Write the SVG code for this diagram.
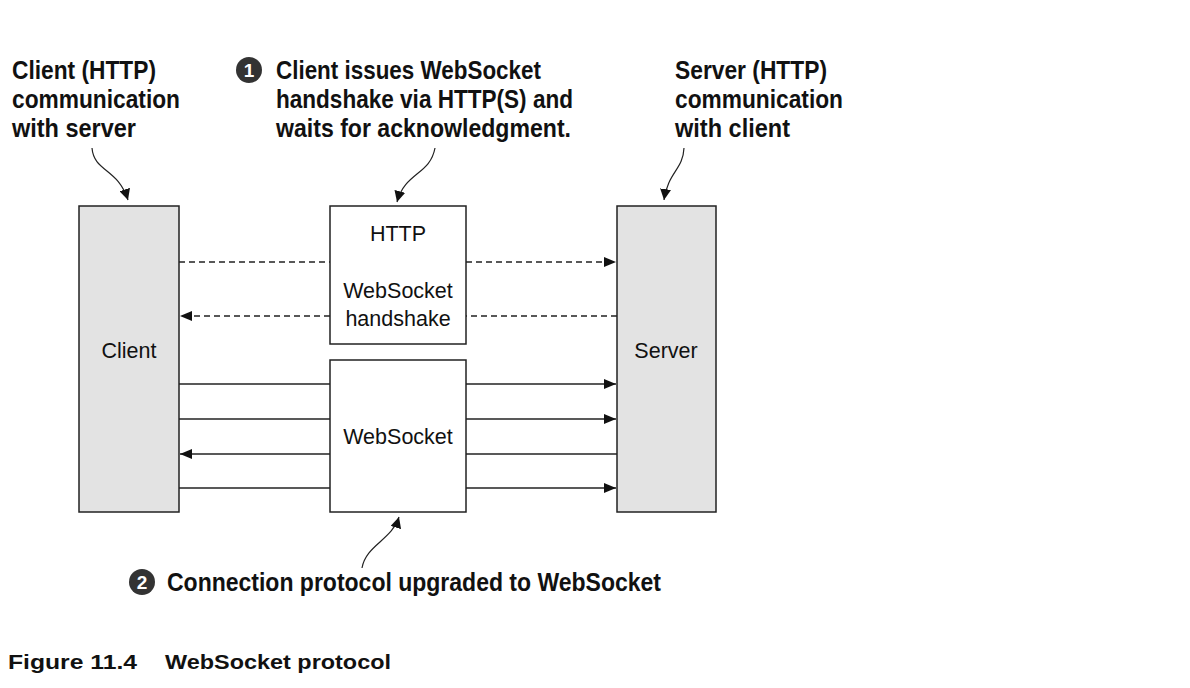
<svg xmlns="http://www.w3.org/2000/svg" width="1190" height="688" viewBox="0 0 1190 688">
<style>
.box{stroke:#222;stroke-width:1.5}
.lbl{font-family:"Liberation Sans",Arial,sans-serif;font-size:21.5px;fill:#111;text-anchor:middle}
.ann{font-family:"Liberation Sans",Arial,sans-serif;font-weight:bold;font-size:25px;fill:#111}
.num{font-family:"Liberation Sans",Arial,sans-serif;font-weight:bold;font-size:19px;fill:#fff;text-anchor:middle}
.cap{font-family:"Liberation Sans",Arial,sans-serif;font-weight:bold;font-size:21px;fill:#111}
.ln{stroke:#222;stroke-width:1.3;fill:none}
.dash{stroke-dasharray:6 4}
.cv{stroke:#222;stroke-width:1.2;fill:none}
</style>
<defs>
<marker id="ah" viewBox="0 0 12 10" refX="12" refY="5" markerWidth="14" markerHeight="10" markerUnits="userSpaceOnUse" orient="auto">
<path d="M0,0 L12,5 L0,10 Z" fill="#111"/>
</marker>
<marker id="ch" viewBox="0 0 10 10" refX="10" refY="5" markerWidth="11" markerHeight="11" markerUnits="userSpaceOnUse" orient="auto">
<path d="M0,0 L10,5 L0,10 Z" fill="#111"/>
</marker>
</defs>
<rect width="1190" height="688" fill="#fff"/>

<g id="client">
<rect class="box" x="79" y="206" width="100" height="306" fill="#e3e3e3"/>
<text class="lbl" x="129" y="358">Client</text>
</g>
<g id="server">
<rect class="box" x="617" y="206" width="99" height="306" fill="#e3e3e3"/>
<text class="lbl" x="666" y="358">Server</text>
</g>
<g id="http">
<rect class="box" x="330" y="206" width="136" height="138" fill="#fff"/>
<text class="lbl" x="398" y="241">HTTP</text>
<text class="lbl" x="398" y="298">WebSocket</text>
<text class="lbl" x="398" y="326">handshake</text>
</g>
<g id="websocket">
<rect class="box" x="330" y="360" width="136" height="152" fill="#fff"/>
<text class="lbl" x="398" y="444">WebSocket</text>
</g>

<g id="connectors">
<line class="ln dash" x1="179" y1="262" x2="330" y2="262"/>
<line class="ln dash" x1="466" y1="262" x2="616" y2="262" marker-end="url(#ah)"/>
<line class="ln dash" x1="330" y1="316" x2="180" y2="316" marker-end="url(#ah)"/>
<line class="ln dash" x1="617" y1="316" x2="466" y2="316"/>
<line class="ln" x1="179" y1="384" x2="330" y2="384"/>
<line class="ln" x1="466" y1="384" x2="616" y2="384" marker-end="url(#ah)"/>
<line class="ln" x1="179" y1="419" x2="330" y2="419"/>
<line class="ln" x1="466" y1="419" x2="616" y2="419" marker-end="url(#ah)"/>
<line class="ln" x1="330" y1="454" x2="180" y2="454" marker-end="url(#ah)"/>
<line class="ln" x1="617" y1="454" x2="466" y2="454"/>
<line class="ln" x1="179" y1="488" x2="330" y2="488"/>
<line class="ln" x1="466" y1="488" x2="616" y2="488" marker-end="url(#ah)"/>
<path class="cv" d="M92,148 C94,172 118,168 128,200" marker-end="url(#ch)"/>
<path class="cv" d="M435,148 C430,175 405,172 397,202" marker-end="url(#ch)"/>
<path class="cv" d="M684,148 C683,170 668,172 664,200" marker-end="url(#ch)"/>
<path class="cv" d="M362,568 C366,545 392,540 399,517" marker-end="url(#ch)"/>
</g>

<g id="annotation-client">
<text class="ann" x="12" y="79" textLength="144" lengthAdjust="spacingAndGlyphs">Client (HTTP)</text>
<text class="ann" x="12" y="108" textLength="168" lengthAdjust="spacingAndGlyphs">communication</text>
<text class="ann" x="12" y="137" textLength="124" lengthAdjust="spacingAndGlyphs">with server</text>
</g>
<g id="annotation-1">
<circle cx="249" cy="70" r="13" fill="#333"/>
<text class="num" x="249" y="77">1</text>
<text class="ann" x="276" y="79" textLength="265" lengthAdjust="spacingAndGlyphs">Client issues WebSocket</text>
<text class="ann" x="276" y="108" textLength="297" lengthAdjust="spacingAndGlyphs">handshake via HTTP(S) and</text>
<text class="ann" x="276" y="137" textLength="295" lengthAdjust="spacingAndGlyphs">waits for acknowledgment.</text>
</g>
<g id="annotation-server">
<text class="ann" x="675" y="79" textLength="152" lengthAdjust="spacingAndGlyphs">Server (HTTP)</text>
<text class="ann" x="675" y="108" textLength="168" lengthAdjust="spacingAndGlyphs">communication</text>
<text class="ann" x="675" y="137" textLength="115" lengthAdjust="spacingAndGlyphs">with client</text>
</g>
<g id="annotation-2">
<circle cx="142" cy="582" r="13" fill="#333"/>
<text class="num" x="142" y="589">2</text>
<text class="ann" x="167" y="591" textLength="494" lengthAdjust="spacingAndGlyphs">Connection protocol upgraded to WebSocket</text>
</g>
<g id="caption">
<text class="cap" x="8" y="669" textLength="129" lengthAdjust="spacingAndGlyphs">Figure 11.4</text>
<text class="cap" x="165" y="669" textLength="226" lengthAdjust="spacingAndGlyphs">WebSocket protocol</text>
</g>
</svg>
